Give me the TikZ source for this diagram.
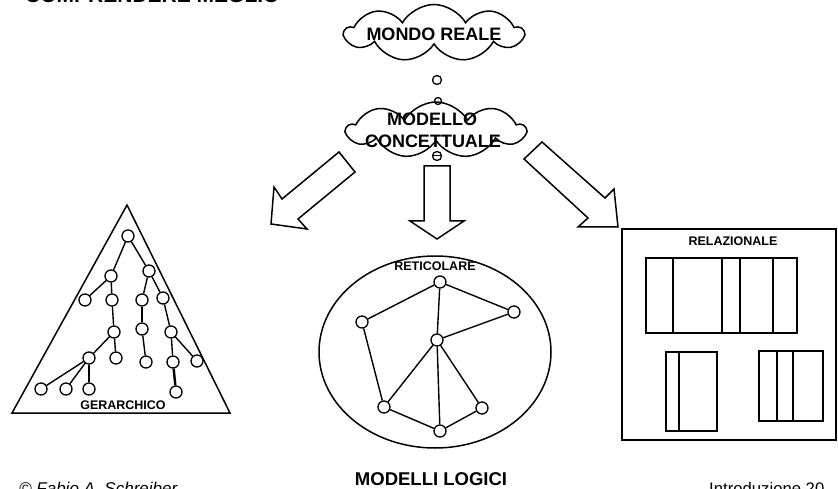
\documentclass[tikz,border=0pt]{standalone}
\usepackage{fontspec}
\setmainfont{Liberation Sans}
\usetikzlibrary{shapes.symbols}
\tikzset{
  ln/.style={line width=1.5pt},
  circ/.style={circle,draw,line width=1.3pt,minimum size=12pt,inner sep=0pt,fill=white},
  edge/.style={line width=1.4pt},
  cloudbox/.style={cloud,draw,line width=1.5pt,cloud puffs=9,cloud puff arc=120,aspect=3.2,inner sep=0pt},
  lbl/.style={font=\bfseries\fontsize{12.5}{14}\selectfont,inner sep=0pt},
  big/.style={font=\bfseries\fontsize{18}{22}\selectfont,inner sep=0pt,align=center},
  bubble/.style={circle,draw,line width=1.3pt,inner sep=0pt},
  tab/.style={draw,line width=1.5pt},
  col/.style={line width=2.4pt}
}
\begin{document}
\begin{tikzpicture}[x=1pt,y=-1pt]
\useasboundingbox (0,0) rectangle (838,489);

% title (cut off at the top)
\node[anchor=base west,font=\bfseries\fontsize{21}{24}\selectfont,inner sep=0pt] (title) at (25,3) {COMPRENDERE MEGLIO};

% clouds
\node[cloudbox,minimum width=178pt,minimum height=57pt] (c1) at (434,33) {};
\node[big,anchor=base] (t1) at (434,41) {MONDO REALE};
\node[bubble,minimum size=9pt] (b1) at (437,80) {};
\node[bubble,minimum size=7pt] (b2) at (438,101) {};
\node[cloudbox,minimum width=178pt,minimum height=56pt] (c2) at (436,130) {};
\node[big,anchor=base] (t2a) at (432,126) {MODELLO};
\node[big,anchor=base] (t2b) at (433,148) {CONCETTUALE};
\node[bubble,minimum size=9pt] (b3) at (437,156) {};
\draw[line width=1pt] (b3.west) -- (b3.east);

% block arrows
\draw[ln,line join=miter] (339,152) -- (355,172) -- (298,219) -- (307,229) -- (271,224) -- (274,187) -- (282,199) -- cycle;
\draw[ln,line join=miter] (424,166) -- (450,166) -- (450,221) -- (464,221) -- (437,239) -- (410,221) -- (424,221) -- cycle;
\draw[ln,line join=miter] (542,142) -- (524,159) -- (588,218) -- (578,227) -- (618,227) -- (614,189) -- (605,198) -- cycle;

% hierarchical model
\draw[ln,line join=miter] (127,205) -- (230,413) -- (12,413) -- cycle;
\node[lbl] (gl) at (123,405) {GERARCHICO};
\node[circ] (r) at (128,236) {};
\node[circ] (a) at (111,276) {};
\node[circ] (b) at (149,271) {};
\node[circ] (a1) at (85,300) {};
\node[circ] (a2) at (112,300) {};
\node[circ] (b1) at (142,300) {};
\node[circ] (b2) at (163,298) {};
\node[circ] (a2a) at (114,332) {};
\node[circ] (b1a) at (142,329) {};
\node[circ] (b2a) at (171,332) {};
\node[circ] (x1) at (89,358) {};
\node[circ] (x2) at (116,358) {};
\node[circ] (y1) at (146,362) {};
\node[circ] (z1) at (173,362) {};
\node[circ] (z2) at (197,361) {};
\node[circ] (z1a) at (176,392) {};
\node[circ] (l1) at (41,389) {};
\node[circ] (l2) at (66,389) {};
\node[circ] (l3) at (89,389) {};
\draw[edge] (r) -- (a); \draw[edge] (r) -- (b);
\draw[edge] (a) -- (a1); \draw[edge] (a) -- (a2);
\draw[edge] (a2) -- (a2a);
\draw[edge] (a2a) -- (x1); \draw[edge] (a2a) -- (x2);
\draw[edge] (x1) -- (l1); \draw[edge] (x1) -- (l2); \draw[edge] (x1) -- (l3);
\draw[edge] (b) -- (b1); \draw[edge] (b) -- (b2);
\draw[edge] (b1) -- (b1a); \draw[edge] (b1a) -- (y1);
\draw[edge] (b2) -- (b2a);
\draw[edge] (b2a) -- (z1); \draw[edge] (b2a) -- (z2);
\draw[line width=2.4pt] (z1) -- (z1a);

% network model
\draw[ln] (435,352) ellipse [x radius=116, y radius=96];
\node[lbl] (rl) at (435,266) {RETICOLARE};
\node[circ] (n1) at (440,282) {};
\node[circ] (n2) at (514,312) {};
\node[circ] (n3) at (362,322) {};
\node[circ] (n4) at (437,340) {};
\node[circ] (n5) at (384,407) {};
\node[circ] (n6) at (482,408) {};
\node[circ] (n7) at (440,431) {};
\draw[edge] (n1) -- (n2); \draw[edge] (n1) -- (n3); \draw[edge] (n1) -- (n4);
\draw[edge] (n2) -- (n4); \draw[edge] (n3) -- (n5); \draw[edge] (n4) -- (n5);
\draw[edge] (n4) -- (n7); \draw[edge] (n4) -- (n6);
\draw[edge] (n5) -- (n7); \draw[edge] (n7) -- (n6);

% relational model
\draw[ln] (622,229) rectangle (836,440);
\node[lbl] (rel) at (733,241) {RELAZIONALE};
\draw[tab] (646,258) rectangle (797,333);
\draw[col] (673,258) -- (673,333);
\draw[col] (722,258) -- (722,333);
\draw[col] (740,258) -- (740,333);
\draw[col] (773,258) -- (773,333);
\draw[tab] (666,352) rectangle (717,431);
\draw[col] (679,352) -- (679,431);
\draw[tab] (759,351) rectangle (823,421);
\draw[col] (777,351) -- (777,421);
\draw[col] (793,351) -- (793,421);

% footer
\node[anchor=base,font=\bfseries\fontsize{18.5}{22}\selectfont,inner sep=0pt] (ml) at (431,485) {MODELLI LOGICI};
\node[anchor=base west,font=\itshape\fontsize{17}{20}\selectfont,inner sep=0pt] (auth) at (19,494) {© Fabio A. Schreiber};
\node[anchor=base west,font=\fontsize{16.7}{20}\selectfont,inner sep=0pt] (intro) at (709,494) {Introduzione 20};
\end{tikzpicture}
\end{document}
